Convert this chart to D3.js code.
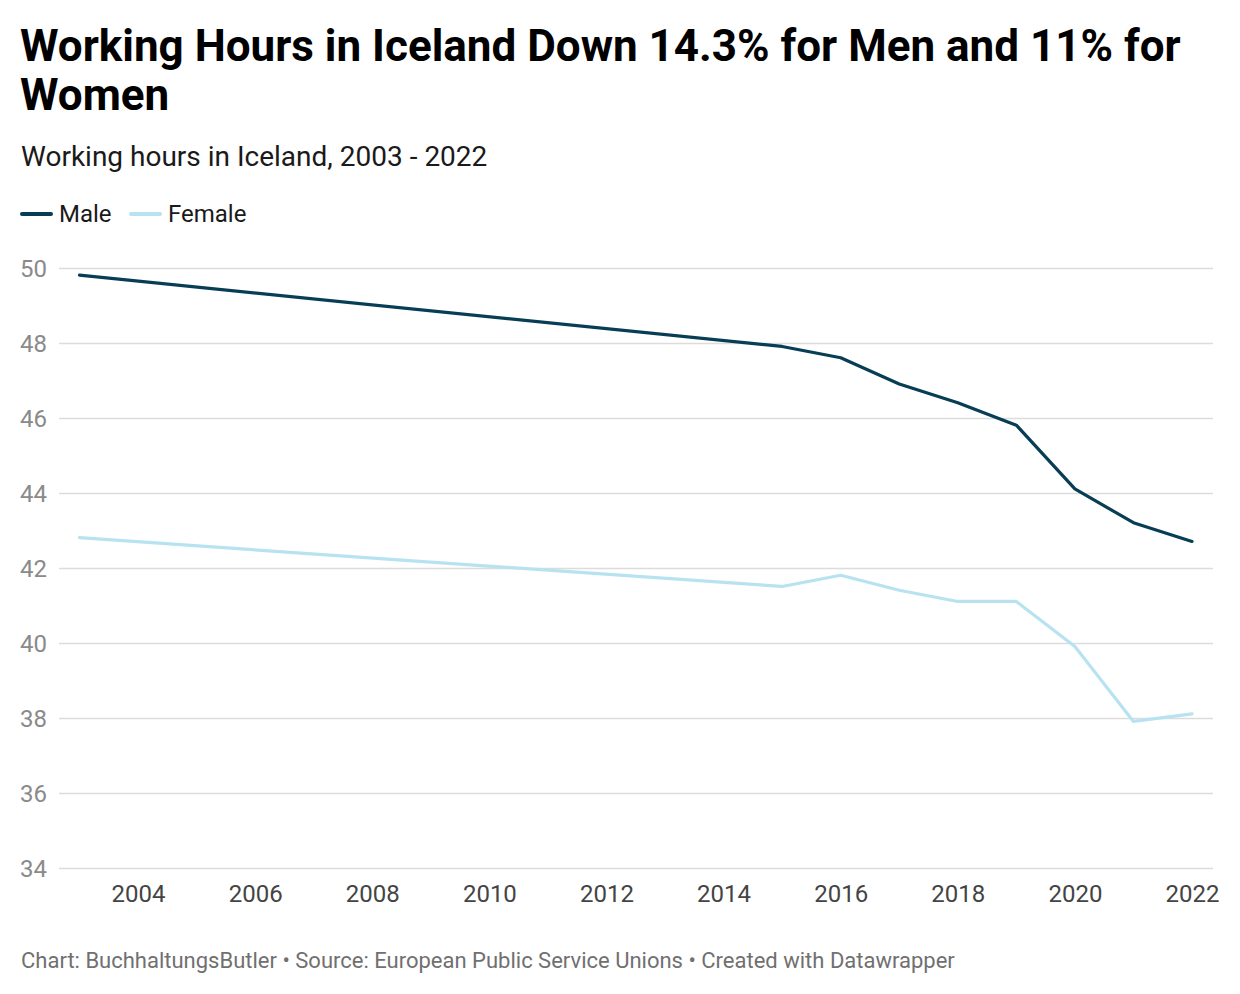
<!DOCTYPE html>
<html>
<head>
<meta charset="utf-8">
<script src="https://cdn.jsdelivr.net/npm/d3@7"></script>
<style>
  html, body { margin: 0; padding: 0; background: #fff; }
  body { width: 1240px; height: 994px; overflow: hidden; font-family: Roboto, "Noto Sans", sans-serif; }
</style>
</head>
<body>
<svg id="chart" width="1240" height="994"></svg>
<script>
const years = [2003, 2015, 2016, 2017, 2018, 2019, 2020, 2021, 2022];
const maleHours = [49.8, 47.9, 47.6, 46.9, 46.4, 45.8, 44.1, 43.2, 42.7];
const femaleHours = [42.8, 41.5, 41.8, 41.4, 41.1, 41.1, 39.9, 37.9, 38.1];
const seriesNames = ["Male", "Female"];
const seriesColors = ["#073d55", "#b7e3f1"];
const yTicks = [34, 36, 38, 40, 42, 44, 46, 48, 50];
const xTicks = [2004, 2006, 2008, 2010, 2012, 2014, 2016, 2018, 2020, 2022];
const titleLines = ["Working Hours in Iceland Down 14.3% for Men and 11% for", "Women"];
const subtitle = "Working hours in Iceland, 2003 - 2022";
const footer = "Chart: BuchhaltungsButler \u2022 Source: European Public Service Unions \u2022 Created with Datawrapper";

const svg = d3.select("#chart");

// Title
svg.append("text")
  .attr("font-family", "Roboto").attr("font-weight", 700).attr("font-size", 44).attr("fill", "#000")
  .selectAll("tspan").data(titleLines).join("tspan")
  .attr("x", 20).attr("y", (d, i) => 61 + i * 49).text(d => d);

svg.append("text").attr("x", 21).attr("y", 166)
  .attr("font-family", "Roboto").attr("font-size", 28).attr("fill", "#1a1a1a").text(subtitle);

// Legend
const legend = svg.append("g");
const legendX = [21, 130];
seriesNames.forEach((name, i) => {
  legend.append("line").attr("x1", legendX[i] + 1).attr("x2", legendX[i] + 30)
    .attr("y1", 214).attr("y2", 214).attr("stroke", seriesColors[i]).attr("stroke-width", 4)
    .attr("stroke-linecap", "round");
  legend.append("text").attr("x", legendX[i] + 38).attr("y", 222)
    .attr("font-family", "Roboto").attr("font-size", 24).attr("fill", "#1a1a1a").text(name);
});

// Scales
const x = d3.scaleLinear().domain([2003, 2022]).range([79.5, 1192]);
const y = d3.scaleLinear().domain([34, 50]).range([867.7, 267.7]);

// Grid
const grid = svg.append("g");
grid.selectAll("line").data(yTicks).join("line")
  .attr("x1", 59).attr("x2", 1213)
  .attr("y1", d => Math.round(y(d)) + 0.5).attr("y2", d => Math.round(y(d)) + 0.5)
  .attr("stroke", "#dcdcdc").attr("stroke-width", 1.5);

// Y axis labels
const yAxis = d3.axisLeft(y).tickValues(yTicks).tickSize(0).tickFormat(d3.format("d"));
const yg = svg.append("g").attr("transform", "translate(47,0)").call(yAxis);
yg.select(".domain").remove();
yg.selectAll("text").attr("font-family", "Roboto").attr("font-size", 24).attr("fill", "#8a8a8a")
  .attr("x", 0).attr("dy", "0.35em");

// X axis labels
const xAxis = d3.axisBottom(x).tickValues(xTicks).tickSize(0).tickFormat(d3.format("d"));
const xg = svg.append("g").attr("transform", "translate(0,882)").call(xAxis);
xg.select(".domain").remove();
xg.selectAll("text").attr("font-family", "Roboto").attr("font-size", 24).attr("fill", "#444")
  .attr("dy", "0.71em");

// Lines
const line = d3.line().x((d, i) => x(years[i])).y(d => y(d));
[maleHours, femaleHours].forEach((vals, i) => {
  svg.append("path").datum(vals).attr("d", line)
    .attr("fill", "none").attr("stroke", seriesColors[i]).attr("stroke-width", 3.2)
    .attr("stroke-linejoin", "round").attr("stroke-linecap", "round");
});

// Footer
svg.append("text").attr("x", 21).attr("y", 968)
  .attr("font-family", "Roboto").attr("font-size", 22).attr("fill", "#707070").text(footer);
</script>
</body>
</html>
